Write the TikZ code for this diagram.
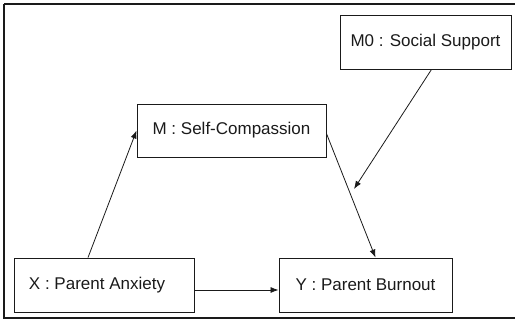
\documentclass[tikz,border=0pt]{standalone}
\usepackage{fontspec}
\setmainfont{Liberation Sans}
\usetikzlibrary{arrows.meta}
\definecolor{ink}{HTML}{1a1a1a}
\begin{document}
\begin{tikzpicture}[x=1pt,y=-1pt,
  box/.style={draw=ink, line width=0.9pt, text=ink, font=\fontsize{17}{20}\selectfont, inner sep=0pt, anchor=center},
  conn/.style={draw=ink, line width=0.8pt, -{Latex[length=8pt,width=6pt]}}]
\useasboundingbox (0,0) rectangle (515,321);
\draw[ink, line width=2pt] (4,4) -- (530,4) (4,4) -- (4,318) -- (530,318);
\node[box, minimum width=171pt, minimum height=54pt] (M0) at (425.5,42) {M0 : Social Support};
\node[box, minimum width=189pt, minimum height=53pt] (M) at (231.5,130.5) {M : Self-Compassion};
\node[box, minimum width=180pt, minimum height=54pt] (X) at (104,285) {\hspace*{-14pt}X : Parent Anxiety};
\node[box, minimum width=173pt, minimum height=54pt] (Y) at (365.5,285) {Y : Parent Burnout};
\coordinate (mod) at (354,189);
\draw[conn] ([xshift=-16pt]X.north) -- (M.west);
\draw[conn] ([yshift=-3pt]M.east) -- ([xshift=10pt]Y.north);
\draw[conn] ([xshift=6pt]M0.south) -- (mod);
\draw[conn] ([yshift=-5pt]X.east) -- ([yshift=-5pt]Y.west);
\end{tikzpicture}
\end{document}
